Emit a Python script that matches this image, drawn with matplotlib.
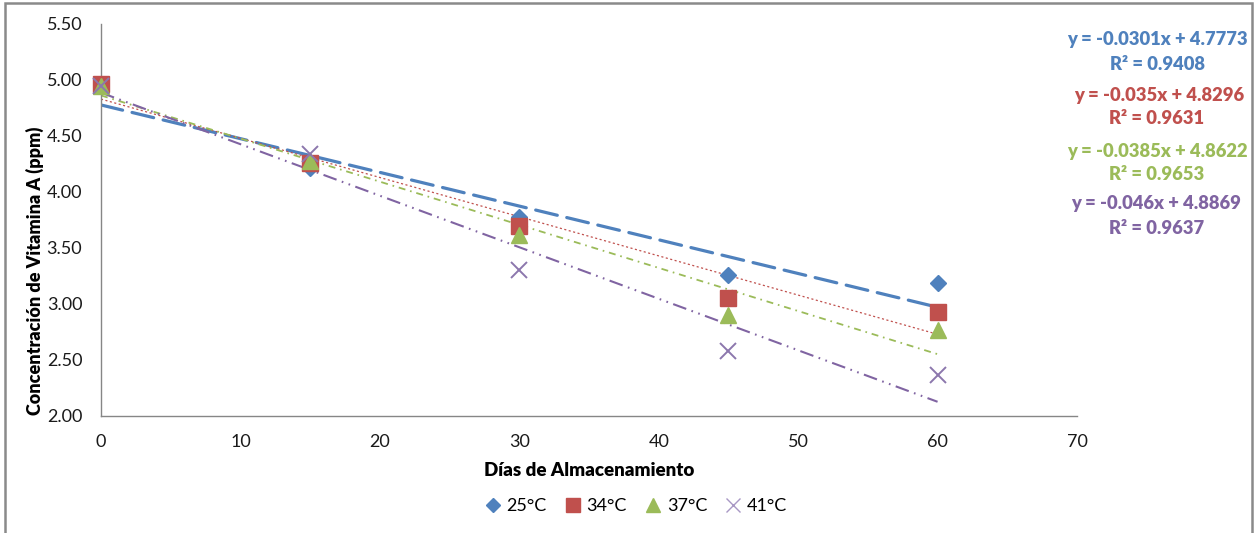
import matplotlib
matplotlib.use("Agg")
import matplotlib.pyplot as plt
from matplotlib.lines import Line2D
from matplotlib.patches import Rectangle
import numpy as np

plt.rcParams['font.family'] = ['Lato', 'DejaVu Sans']
plt.rcParams['lines.scale_dashes'] = False

# Storage days and measured vitamin A concentration (ppm) per temperature
days = [0, 15, 30, 45, 60]
temps = ['25°C', '34°C', '37°C', '41°C']
conc_25 = [4.96, 4.21, 3.78, 3.26, 3.19]
conc_34 = [4.96, 4.26, 3.70, 3.05, 2.93]
conc_37 = [4.95, 4.28, 3.62, 2.90, 2.77]
conc_41 = [4.95, 4.34, 3.30, 2.58, 2.37]

# Linear trend coefficients and R² for each temperature
slopes = [-0.0301, -0.035, -0.0385, -0.046]
intercepts = [4.7773, 4.8296, 4.8622, 4.8869]
r2_values = [0.9408, 0.9631, 0.9653, 0.9637]
slope_labels = ['-0.0301', '-0.035', '-0.0385', '-0.046']
intercept_labels = ['4.7773', '4.8296', '4.8622', '4.8869']

x_ticks = [0, 10, 20, 30, 40, 50, 60, 70]
y_ticks = [2.0, 2.5, 3.0, 3.5, 4.0, 4.5, 5.0, 5.5]

colors = ['#4F81BD', '#C0504D', '#9BBB59', '#8064A2']
series = [conc_25, conc_34, conc_37, conc_41]
markers = [
    dict(marker='D', markersize=8.6, markerfacecolor=colors[0], markeredgecolor=colors[0]),
    dict(marker='s', markersize=11.5, markerfacecolor=colors[1], markeredgecolor=colors[1]),
    dict(marker='^', markersize=12, markerfacecolor=colors[2], markeredgecolor=colors[2]),
    dict(marker='x', markersize=11.5, markeredgecolor='#8C77AD', markeredgewidth=1.4),
]
trend_styles = [
    dict(color=colors[0], lw=2.3, dashes=(16, 7), dash_capstyle='round'),
    dict(color=colors[1], lw=0.9, dashes=(1.5, 1.8)),
    dict(color=colors[2], lw=1.3, dashes=(5, 3.5, 1.2, 3.5)),
    dict(color=colors[3], lw=1.5, dashes=(10, 4, 1.2, 4, 1.2, 4)),
]

W, H = 1257, 533
fig = plt.figure(figsize=(W / 100, H / 100), dpi=100)
ax = fig.add_axes([101 / W, (H - 416) / H, (1077 - 101) / W, (416 - 24) / H])

# Outer chart frame
fig.patches.append(Rectangle((5 / W, -0.05), (1252 - 5) / W, (H - 3) / H + 0.05,
                             transform=fig.transFigure, fill=False,
                             edgecolor='#8A8A8A', lw=1.8))

x_line = np.array([days[0], days[-1]], dtype=float)
for m, b, st in zip(slopes, intercepts, trend_styles):
    ax.plot(x_line, m * x_line + b, solid_capstyle='butt', zorder=2, **st)

for vals, mk in zip(series, markers):
    ax.plot(days, vals, linestyle='none', zorder=3, clip_on=False, **mk)

ax.set_xlim(0, 70)
ax.set_ylim(2.0, 5.5)
ax.set_xticks(x_ticks)
ax.set_yticks(y_ticks)
ax.set_yticklabels([f'{v:.2f}' for v in y_ticks])
ax.tick_params(length=0, labelsize=13, colors='#1a1a1a')
ax.tick_params(axis='x', pad=13)
ax.tick_params(axis='y', pad=13.5)
for s in ['top', 'right']:
    ax.spines[s].set_visible(False)
for s in ['left', 'bottom']:
    ax.spines[s].set_color('#868686')
    ax.spines[s].set_linewidth(1.0)
ax.spines['bottom'].set_bounds(0, 70)
ax.spines['left'].set_bounds(2.0, 5.5)

fig.text(589 / W, 1 - 470 / H, 'Días de Almacenamiento', ha='center', va='center',
         fontsize=13.5, fontweight='heavy')
fig.text(35 / W, 1 - 271 / H, 'Concentración de Vitamina A (ppm)', ha='center', va='center',
         rotation=90, fontsize=13, fontweight='heavy')

# Trend equations
eq_y = [40, 95, 151, 203]
r2_y = [65, 119, 175, 228]
eq_x = [1157, 1159, 1157, 1156]
for i in range(4):
    fig.text(eq_x[i] / W, 1 - eq_y[i] / H,
             f'y = {slope_labels[i]}x + {intercept_labels[i]}',
             ha='center', va='center', fontsize=13.2, fontweight='heavy', color=colors[i])
    fig.text(1157 / W, 1 - r2_y[i] / H, f'R² = {r2_values[i]:.4f}',
             ha='center', va='center', fontsize=13.2, fontweight='heavy', color=colors[i])

handles = [
    Line2D([], [], linestyle='none', marker='D', markersize=7, color=colors[0]),
    Line2D([], [], linestyle='none', marker='s', markersize=10, color=colors[1]),
    Line2D([], [], linestyle='none', marker='^', markersize=10, color=colors[2]),
    Line2D([], [], linestyle='none', marker='x', markersize=10, color='#A898C4', markeredgewidth=1.0),
]
fig.legend(handles, temps, loc='center', bbox_to_anchor=(636 / W, 1 - 506 / H),
           ncol=4, frameon=False, fontsize=13, handlelength=0.9, handletextpad=0.3,
           columnspacing=1.0, borderaxespad=0)

fig.savefig('out.png', dpi=100)
